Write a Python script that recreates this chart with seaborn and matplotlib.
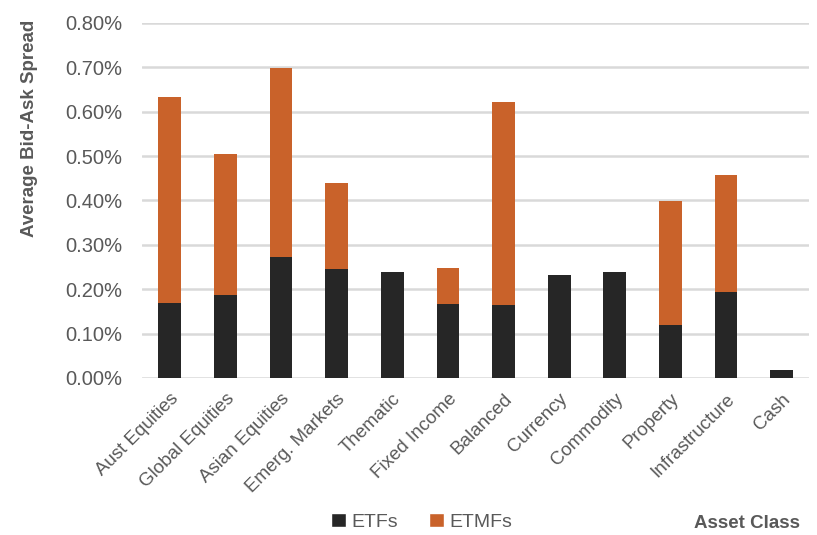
import numpy as np
import matplotlib
matplotlib.use("Agg")
import matplotlib.pyplot as plt
import seaborn as sns
from matplotlib.patches import Patch
from matplotlib.ticker import FuncFormatter

categories = ["Aust Equities", "Global Equities", "Asian Equities", "Emerg. Markets",
              "Thematic", "Fixed Income", "Balanced", "Currency", "Commodity",
              "Property", "Infrastructure", "Cash"]
etf_spread = [0.169, 0.186, 0.272, 0.245, 0.238, 0.167, 0.164, 0.232, 0.239, 0.119, 0.194, 0.018]
etmf_spread = [0.633, 0.505, 0.699, 0.439, np.nan, 0.248, 0.622, np.nan, np.nan, 0.398, 0.458, np.nan]
yticks = [0.0, 0.1, 0.2, 0.3, 0.4, 0.5, 0.6, 0.7, 0.8]

sns.set_theme(style="white")
plt.rcParams["font.family"] = ["Liberation Sans Narrow", "Liberation Sans", "DejaVu Sans"]

TXT = "#595959"
ORANGE = "#C9622A"
BLACK = "#262626"
GRID = "#D9D9D9"

fig = plt.figure(figsize=(8.17, 5.35), dpi=100)
ax = fig.add_axes([0.1738, 0.2935, 0.817, 0.6636])

sns.barplot(x=categories, y=etmf_spread, order=categories, color=ORANGE, width=0.41,
            saturation=1, linewidth=0, ax=ax, zorder=2)
sns.barplot(x=categories, y=etf_spread, order=categories, color=BLACK, width=0.41,
            saturation=1, linewidth=0, ax=ax, zorder=3)

ax.set_xlim(-0.5, len(categories) - 0.5)
ax.set_ylim(0, 0.8)
ax.set_yticks(yticks)
ax.yaxis.set_major_formatter(FuncFormatter(lambda v, p: f"{v:.2f}%"))
ax.yaxis.grid(True, color=GRID, linewidth=1.8, zorder=0)
ax.set_axisbelow(True)
for s in ax.spines.values():
    s.set_visible(False)
ax.tick_params(axis="y", length=0, pad=14, labelsize=14.5, labelcolor=TXT)
ax.tick_params(axis="x", length=0, pad=9, labelsize=13.5, labelcolor=TXT)
ax.set_xticks(range(len(categories)))
ax.set_xticklabels(categories, rotation=45, ha="right", rotation_mode="anchor")
ax.set_xlabel("")
ax.set_ylabel("")

fig.text(30 / 817, 1 - 128 / 535, "Average Bid-Ask Spread", rotation=90, ha="center",
         va="center", fontsize=13.5, fontweight="bold", color=TXT)
fig.text(800 / 817, 1 - 524 / 535, "Asset Class", ha="right", va="center",
         fontsize=13.5, fontweight="bold", color=TXT)

handles = [Patch(facecolor=BLACK, label="ETFs"), Patch(facecolor=ORANGE, label="ETMFs")]
leg = fig.legend(handles=handles, loc="center", bbox_to_anchor=(422 / 817, 1 - 522 / 535),
                 ncol=2, frameon=False, fontsize=14, handlelength=0.75, handleheight=0.75,
                 handletextpad=0.3, columnspacing=1.6)
for t in leg.get_texts():
    t.set_color(TXT)

fig.savefig("out.png", dpi=100)
